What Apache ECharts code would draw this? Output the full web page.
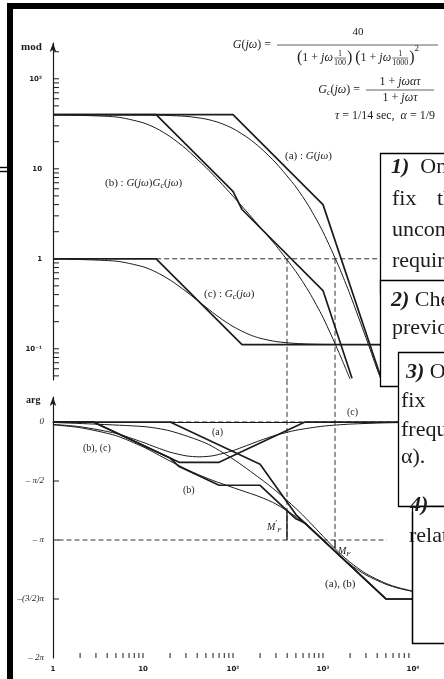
<!DOCTYPE html>
<html><head><meta charset="utf-8">
<script src="https://cdn.jsdelivr.net/npm/echarts@6/dist/echarts.min.js"></script>
<style>html,body{margin:0;padding:0;background:#fff}#c{width:444px;height:679px}</style>
</head><body><div id="c"></div>
<script>
const PI = Math.PI;
// ---------- data (omega, value) ----------
const magAsymA  = [[1,40],[100,40],[1000,4],[4430,0.047]];
const magAsymB  = [[1,40],[14,40],[100,5.6],[126,3.53],[1000,0.444],[2100,0.047]];
const magAsymC  = [[1,1],[14,1],[126,0.111],[10000,0.111]];
const magExactA = [[1,40],[10,39.8],[30,38.3],[50,35.7],[70,32.6],[100,28.0],[150,21.7],[200,17.2],[300,11.6],[500,6.28],[700,3.8],[1000,1.99],[1500,0.819],[2000,0.4],[3000,0.133],[4000,0.0588],[4400,0.046]];
const magExactB = [[1,39.9],[5,37.7],[10,32.5],[14,28.2],[20,22.8],[30,16.7],[50,10.35],[70,7.32],[100,4.96],[150,3.14],[200,2.25],[300,1.40],[500,0.72],[700,0.429],[1000,0.223],[1500,0.0912],[2000,0.046]];
const magExactC = [[1,0.998],[5,0.942],[10,0.816],[14,0.711],[20,0.581],[30,0.435],[50,0.29],[70,0.224],[100,0.177],[150,0.1445],[200,0.131],[300,0.1204],[500,0.1146],[1000,0.112],[10000,0.111]];

const phAsymA  = [[1,0],[20,0],[200,-1.123],[500,-2.465],[5000,-4.712],[10000,-4.712]];
const phAsymB  = [[1,0],[2.8,0],[20,-0.959],[25.2,-1.185],[70,-1.684],[200,-1.684],[500,-2.578],[630,-2.691],[5000,-4.712],[10000,-4.712]];
const phAsymC  = [[1,0],[2.8,0],[25.2,-1.072],[70,-1.072],[630,0],[10000,0]];
const phExactA = [[1,-0.012],[10,-0.12],[20,-0.237],[50,-0.564],[100,-0.985],[200,-1.502],[300,-1.832],[500,-2.301],[700,-2.65],[1000,-3.042],[1500,-3.47],[2000,-3.735],[3000,-4.036],[5000,-4.298],[7000,-4.414],[10000,-4.503]];
const phExactB = [[1,-0.075],[2,-0.15],[5,-0.363],[10,-0.661],[14,-0.842],[20,-1.04],[30,-1.251],[42,-1.409],[60,-1.558],[100,-1.746],[200,-1.994],[300,-2.183],[500,-2.521],[700,-2.808],[1000,-3.153],[1500,-3.544],[2000,-3.791],[3000,-4.073],[5000,-4.32],[7000,-4.43],[10000,-4.514]];
const phExactC = [[1,-0.063],[2,-0.126],[5,-0.303],[10,-0.541],[14,-0.675],[20,-0.803],[30,-0.9],[42,-0.927],[60,-0.898],[100,-0.761],[200,-0.492],[300,-0.351],[500,-0.22],[1000,-0.111],[2000,-0.056],[5000,-0.022],[10000,-0.011]];

// crossover frequencies and margins
const wcB = 398, wcA = 1360;
const phaseAtWcB = -2.36, phaseAtWcA = -3.36;

// tick values / labels
const modTickValues = [0.05,0.06,0.07,0.08,0.09,0.1,0.2,0.3,0.4,0.5,0.6,0.7,0.8,0.9,1,2,3,4,5,6,7,8,9,10,20,30,40,50,60,70,80,90,100,200];
const modTickLabels = {'-1':'10⁻¹','0':'1','1':'10','2':'10²'};
const phaseTickValues = [0,-1.5708,-3.1416,-4.7124];
const phaseTickLabels = ['0','– π/2','– π','–(3/2)π','– 2π'];
const freqTickValues = [2,3,4,5,6,7,8,9,10,20,30,40,50,60,70,80,90,100,200,300,400,500,600,700,800,900,1000,2000,3000,4000,5000,6000,7000,8000,9000];
const freqTickLabels = {'0':'1','1':'10','2':'10²','3':'10³','4':'10⁴'};

// ---------- helpers ----------
const F = '"Liberation Serif","Times New Roman",serif';
const INK = '#1c1c1c';
const mctx = document.createElement('canvas').getContext('2d');
function tw(t, font){ mctx.font = font; return mctx.measureText(t).width; }
function R(s){ return s+'px '+F; }
function I(s){ return 'italic '+s+'px '+F; }
function run(pieces, x, y, anchor){
  const widths = pieces.map(p => p.frac ? Math.max(tw(p.frac[0],p.font),tw(p.frac[1],p.font))+2 : tw(p[0],p[1]));
  const total = widths.reduce((a,b)=>a+b,0);
  let cx = anchor==='right' ? x-total : anchor==='center' ? x-total/2 : x;
  const out = [];
  pieces.forEach((p,i)=>{
    if (p.frac){
      const wd = widths[i];
      out.push({type:'text', x:cx+wd/2, y:y-4.5, z:50, style:{text:p.frac[0], font:p.font, fill:INK, align:'center', verticalAlign:'middle'}});
      out.push({type:'text', x:cx+wd/2, y:y+4.5, z:50, style:{text:p.frac[1], font:p.font, fill:INK, align:'center', verticalAlign:'middle'}});
      out.push({type:'line', z:50, shape:{x1:cx+1,y1:y,x2:cx+wd-1,y2:y}, style:{stroke:INK, lineWidth:0.6}});
    } else {
      out.push({type:'text', x:cx, y:y+(p[2]||0), z:50, style:{text:p[0], font:p[1], fill:INK, align:'left', verticalAlign:'middle'}});
    }
    cx += widths[i];
  });
  return out;
}
function hline(x1,y1,x2,y2,w,c){ return {type:'line', z:60, shape:{x1,y1,x2,y2}, style:{stroke:c||'#000', lineWidth:w||1}}; }

// ---------- graphics (text, frame, boxes) ----------
let G = [];
G.push({type:'rect', z:60, shape:{x:7,y:3,width:437,height:6}, style:{fill:'#000'}});
G.push({type:'rect', z:60, shape:{x:7,y:3,width:6,height:676}, style:{fill:'#000'}});
G.push(hline(0,167.5,12,167.5,1.4), hline(0,171.5,12,171.5,1.4));
G.push({type:'text', x:21, y:47, z:50, style:{text:'mod', font:'bold 11px '+F, fill:INK, verticalAlign:'middle'}});
G.push({type:'text', x:26, y:400, z:50, style:{text:'arg', font:'bold 10px '+F, fill:INK, verticalAlign:'middle'}});
// equations
G = G.concat(run([['G',I(12)],['(',R(12)],['jω',I(12)],[')',R(12)],[' = ',R(12)]], 274, 45, 'right'));
G.push({type:'text', x:358, y:32, z:50, style:{text:'40', font:R(11), fill:INK, align:'center', verticalAlign:'middle'}});
G.push(hline(277,45,438,45,0.7,INK));
G = G.concat(run([['(',R(16)],['1 + ',R(12)],['jω',I(12)],{frac:['1','100'],font:R(8)},[')',R(16)],[' ',R(12)],['(',R(16)],['1 + ',R(12)],['jω',I(12)],{frac:['1','1000'],font:R(8)},[')',R(16)],['2',R(9),-9]], 358, 58, 'center'));
G = G.concat(run([['G',I(12)],['c',I(8),3],['(',R(12)],['jω',I(12)],[')',R(12)],[' = ',R(12)]], 363, 90, 'right'));
G = G.concat(run([['1 + ',R(12)],['jωατ',I(12)]], 400, 82, 'center'));
G.push(hline(366,90,434,90,0.7,INK));
G = G.concat(run([['1 + ',R(12)],['jωτ',I(12)]], 400, 98, 'center'));
G = G.concat(run([['τ',I(12)],[' = 1/14 sec,  ',R(12)],['α',I(12)],[' = 1/9',R(12)]], 435, 116, 'right'));
// curve labels
const L = 11;
G = G.concat(run([['(a) : ',R(L)],['G',I(L)],['(',R(L)],['jω',I(L)],[')',R(L)]], 285, 156, 'left'));
G = G.concat(run([['(b) : ',R(L)],['G',I(L)],['(',R(L)],['jω',I(L)],[')',R(L)],['G',I(L)],['c',I(8),3],['(',R(L)],['jω',I(L)],[')',R(L)]], 105, 183, 'left'));
G = G.concat(run([['(c) : ',R(L)],['G',I(L)],['c',I(8),3],['(',R(L)],['jω',I(L)],[')',R(L)]], 204, 294, 'left'));
G = G.concat(run([['(a)',R(10)]], 212, 432, 'left'));
G = G.concat(run([['(b), (c)',R(10)]], 83, 448, 'left'));
G = G.concat(run([['(b)',R(10)]], 183, 490, 'left'));
G = G.concat(run([['(c)',R(10)]], 347, 412, 'left'));
G = G.concat(run([['M',I(10)],['′',R(9),-3],['F',I(7),3]], 267, 527, 'left'));
G = G.concat(run([['M',I(10)],['F',I(7),3]], 338, 551, 'left'));
G = G.concat(run([['(a), (b)',R(11)]], 325, 584, 'left'));
// text boxes
const B = 22;
function box(x,y,w,h){ return {type:'rect', z:70, shape:{x,y,width:w,height:h}, style:{fill:'#fff', stroke:'#000', lineWidth:1.3}}; }
function bt(pieces,x,y){ return run(pieces,x,y,'left').map(e=>{e.z=71; return e;}); }
const BI = 'bold italic '+B+'px '+F;
G.push(box(380.5,153.5,100,140));
G = G.concat(bt([['1)',BI],['  On',R(B)]],391,167));
G = G.concat(bt([['fix',R(B)]],392,199));
G = G.concat(bt([['the',R(B)]],437,199));
G = G.concat(bt([['uncompensated',R(B)]],392,230));
G = G.concat(bt([['requirements',R(B)]],392,261));
G.push(box(380.5,280.5,100,106));
G = G.concat(bt([['2)',BI],[' Check',R(B)]],391,300));
G = G.concat(bt([['previous',R(B)]],392,328));
G.push(box(398.5,352.5,100,154));
G = G.concat(bt([['3)',BI],[' Once',R(B)]],406,372));
G = G.concat(bt([['fix',R(B)]],401,401));
G = G.concat(bt([['frequency',R(B)]],401,430));
G = G.concat(bt([['α).',R(B)]],401,457));
G.push(box(412.5,506.5,100,137));
G = G.concat(bt([['4)',BI]],410,505));
G = G.concat(bt([['relative',R(B)]],409,536));
G.push(Object.assign(hline(412.5,512,412.5,643,1.3), {z:72}));

// ---------- series ----------
function ln(data, xi, width, opts){
  return Object.assign({type:'line', xAxisIndex:xi, yAxisIndex:xi, data, showSymbol:false, symbol:'none', silent:true,
    lineStyle:{color:INK, width}, z:5}, opts||{});
}
const asymW = 1.7, exW = 1.0;
const dash = {type:[5,3], width:0.9, color:INK};
const sm = {smooth:0.25};
function tickSeries(xi, data, dir, len){
  return {type:'custom', xAxisIndex:xi, yAxisIndex:xi, data, clip:false, silent:true, z:4,
    renderItem:(p,api)=>{ const c = api.coord([api.value(0), api.value(1)]);
      const d = dir==='right' ? [len,0] : [0,-len];
      return {type:'line', shape:{x1:c[0],y1:c[1],x2:c[0]+d[0],y2:c[1]+d[1]}, style:{stroke:INK, lineWidth:1}}; }};
}
const series = [
  ln(magAsymA,0,asymW), ln(magAsymB,0,asymW), ln(magAsymC,0,asymW),
  ln(magExactA,0,exW,sm), ln(magExactB,0,exW,sm), ln(magExactC,0,exW,sm),
  ln([[14,1],[5000,1]],0,1,{lineStyle:dash}),
  ln([[wcB,1],[wcB,0.045]],0,1,{lineStyle:dash}),
  ln([[wcA,1],[wcA,0.045]],0,1,{lineStyle:dash}),
  ln(phAsymA,1,asymW), ln(phAsymB,1,asymW), ln(phAsymC,1,asymW),
  ln(phExactA,1,exW,sm), ln(phExactB,1,exW,sm), ln(phExactC,1,exW,sm),
  ln([[20,0],[10000,0]],1,1,{lineStyle:dash}),
  ln([[1.15,-3.1416],[5100,-3.1416]],1,1,{lineStyle:dash}),
  ln([[wcB,1.12],[wcB,-3.1416]],1,1,{lineStyle:dash, clip:false}),
  ln([[wcA,1.12],[wcA,-3.1416]],1,1,{lineStyle:dash, clip:false}),
  ln([[wcB,-3.1416],[wcB,phaseAtWcB]],1,1.4),
  ln([[wcA,-3.1416],[wcA,phaseAtWcA]],1,1.4),
  tickSeries(0, modTickValues.map(v=>[1,v]), 'right', 6),
  tickSeries(1, phaseTickValues.map(v=>[1,v]), 'right', 6),
  tickSeries(1, freqTickValues.map(v=>[v,-2*PI]), 'up', 5)
];

const chart = echarts.init(document.getElementById('c'), null, {renderer:'canvas'});
chart.setOption({
  animation:false,
  backgroundColor:'#fff',
  grid:[{left:53, top:43, width:360, height:337},{left:53, top:397, width:360, height:261}],
  xAxis:[
    {type:'log', gridIndex:0, min:1, max:10000, show:false},
    {type:'log', gridIndex:1, min:1, max:10000,
      axisLine:{show:true, lineStyle:{color:INK, width:1.2}}, axisTick:{show:false}, splitLine:{show:false},
      axisLabel:{fontSize:7, fontWeight:'bold', color:INK, fontFamily:'DejaVu Sans', margin:8,
        formatter:v=>{const k=Math.round(Math.log10(v)); return Math.abs(Math.log10(v)-k)<1e-6 ? (freqTickLabels[k]||'') : '';}}}
  ],
  yAxis:[
    {type:'log', gridIndex:0, min:0.045, max:250,
      axisLine:{show:true, symbol:['none','arrow'], symbolSize:[5,9], lineStyle:{color:INK, width:1.2}},
      axisTick:{show:false}, splitLine:{show:false},
      axisLabel:{fontSize:7, fontWeight:'bold', color:INK, fontFamily:'DejaVu Sans', margin:11,
        formatter:v=>{const k=Math.round(Math.log10(v)); return Math.abs(Math.log10(v)-k)<1e-6 ? (modTickLabels[k]||'') : '';}}},
    {type:'value', gridIndex:1, min:-2*PI, max:0.666, interval:PI/2,
      axisLine:{show:true, symbol:['none','arrow'], symbolSize:[5,9], lineStyle:{color:INK, width:1.2}},
      axisTick:{show:false}, splitLine:{show:false},
      axisLabel:{fontSize:9, fontStyle:'italic', color:INK, fontFamily:'Liberation Serif', margin:9,
        formatter:v=>{const k=Math.round(-v/(PI/2)); return (k>=0 && k<=4 && Math.abs(v+k*PI/2)<1e-6) ? phaseTickLabels[k] : '';}}}
  ],
  series,
  graphic: G
});
</script></body></html>
